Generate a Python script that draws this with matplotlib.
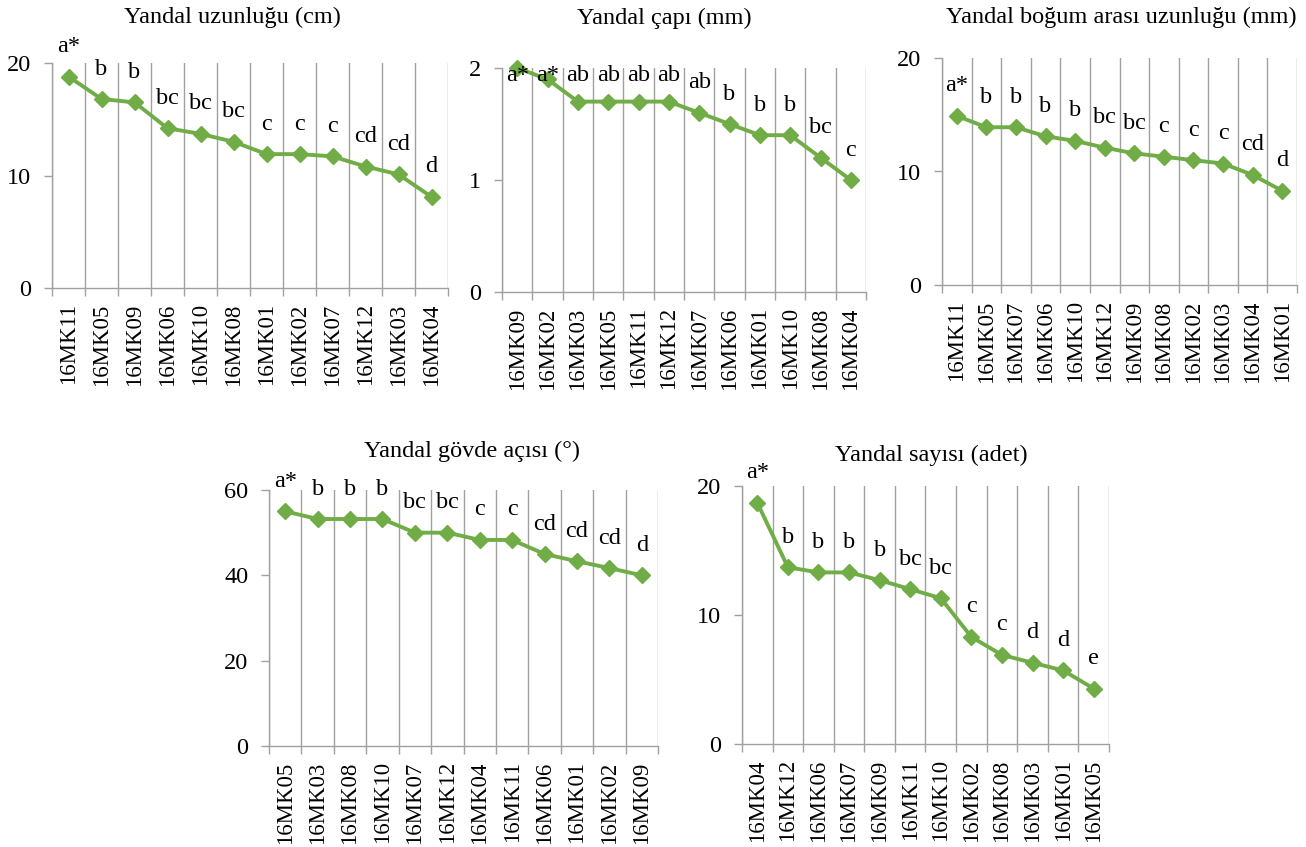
import matplotlib.pyplot as plt
from matplotlib.ticker import FixedLocator

plt.rcParams['font.family'] = ['Liberation Serif', 'DejaVu Serif']

# Yandal uzunluğu (cm)
uzunluk_names = ["16MK11", "16MK05", "16MK09", "16MK06", "16MK10", "16MK08",
                 "16MK01", "16MK02", "16MK07", "16MK12", "16MK03", "16MK04"]
uzunluk_vals = [18.8, 16.8, 16.5, 14.2, 13.7, 13.0, 11.9, 11.9, 11.7, 10.8, 10.1, 8.1]
uzunluk_grp = ["a*", "b", "b", "bc", "bc", "bc", "c", "c", "c", "cd", "cd", "d"]

# Yandal çapı (mm)
cap_names = ["16MK09", "16MK02", "16MK03", "16MK05", "16MK11", "16MK12",
             "16MK07", "16MK06", "16MK01", "16MK10", "16MK08", "16MK04"]
cap_vals = [2.0, 1.9, 1.7, 1.7, 1.7, 1.7, 1.6, 1.5, 1.4, 1.4, 1.2, 1.0]
cap_grp = ["a*", "a*", "ab", "ab", "ab", "ab", "ab", "b", "b", "b", "bc", "c"]

# Yandal boğum arası uzunluğu (mm)
bogum_names = ["16MK11", "16MK05", "16MK07", "16MK06", "16MK10", "16MK12",
               "16MK09", "16MK08", "16MK02", "16MK03", "16MK04", "16MK01"]
bogum_vals = [14.9, 13.9, 13.9, 13.1, 12.7, 12.1, 11.6, 11.3, 11.0, 10.7, 9.7, 8.3]
bogum_grp = ["a*", "b", "b", "b", "b", "bc", "bc", "c", "c", "c", "cd", "d"]

# Yandal gövde açısı (°)
aci_names = ["16MK05", "16MK03", "16MK08", "16MK10", "16MK07", "16MK12",
             "16MK04", "16MK11", "16MK06", "16MK01", "16MK02", "16MK09"]
aci_vals = [55.0, 53.2, 53.2, 53.2, 50.0, 50.0, 48.3, 48.3, 45.0, 43.3, 41.7, 40.0]
aci_grp = ["a*", "b", "b", "b", "bc", "bc", "c", "c", "cd", "cd", "cd", "d"]

# Yandal sayısı (adet)
sayi_names = ["16MK04", "16MK12", "16MK06", "16MK07", "16MK09", "16MK11",
              "16MK10", "16MK02", "16MK08", "16MK03", "16MK01", "16MK05"]
sayi_vals = [18.7, 13.7, 13.3, 13.3, 12.7, 12.0, 11.3, 8.3, 6.9, 6.3, 5.7, 4.3]
sayi_grp = ["a*", "b", "b", "b", "b", "bc", "bc", "c", "c", "d", "d", "e"]

W, H = 1306, 847
GREEN = "#70AD47"
GRID = "#A0A0A0"

fig = plt.figure(figsize=(W / 100, H / 100), dpi=100)


def panel(box, names, vals, grp, ymax, ystep, title, title_xy, label_cap=None):
    left, right, top, bottom = box
    ax = fig.add_axes([left / W, 1 - bottom / H, (right - left) / W, (bottom - top) / H])
    x = list(range(len(names)))
    ax.plot(x, vals, color=GREEN, lw=2.8, marker="D", ms=8, zorder=3, clip_on=False)

    ax.set_xlim(-0.5, len(names) - 0.5)
    ax.set_ylim(0, ymax)
    ax.set_yticks([i * ystep for i in range(int(round(ymax / ystep)) + 1)])
    ax.set_xticks(x)
    ax.set_xticklabels(names, rotation=90, fontsize=16.5)
    ax.xaxis.set_minor_locator(FixedLocator([i - 0.5 for i in range(len(names) + 1)]))
    ax.tick_params(axis="x", which="major", length=0, pad=11)
    ax.tick_params(axis="x", which="minor", length=6, color=GRID, width=1, direction="out")
    ax.tick_params(axis="y", length=6, color=GRID, width=1, labelsize=17.5, pad=9)
    ax.grid(axis="x", which="minor", color=GRID, lw=1)
    for s in ["top", "right"]:
        ax.spines[s].set_visible(False)
    for s in ["left", "bottom"]:
        ax.spines[s].set_color(GRID)
        ax.spines[s].set_linewidth(1)

    # group letters ~30 px above each point
    px_per_unit = (bottom - top) / ymax
    off = 30 / px_per_unit
    for xi, v, g in zip(x, vals, grp):
        ly = v + off
        if label_cap is not None:
            ly = min(ly, label_cap)
        ax.text(xi, ly, g, ha="center", va="center", fontsize=17.5, clip_on=False)

    fig.text(title_xy[0] / W, 1 - title_xy[1] / H, title, ha="center", va="center", fontsize=17.5)
    return ax


panel((52, 448, 63, 288), uzunluk_names, uzunluk_vals, uzunluk_grp, 20, 10,
      "Yandal uzunluğu (cm)", (232, 17))
panel((502, 866, 68, 292), cap_names, cap_vals, cap_grp, 2, 1,
      "Yandal çapı (mm)", (664, 18), label_cap=1.93)
panel((942, 1297, 58, 285), bogum_names, bogum_vals, bogum_grp, 20, 10,
      "Yandal boğum arası uzunluğu (mm)", (1121, 17))
panel((269, 658, 490, 746), aci_names, aci_vals, aci_grp, 60, 20,
      "Yandal gövde açısı (°)", (472, 451))
panel((742, 1109, 486, 744), sayi_names, sayi_vals, sayi_grp, 20, 10,
      "Yandal sayısı (adet)", (931, 455))

fig.savefig("out.png", dpi=100)
